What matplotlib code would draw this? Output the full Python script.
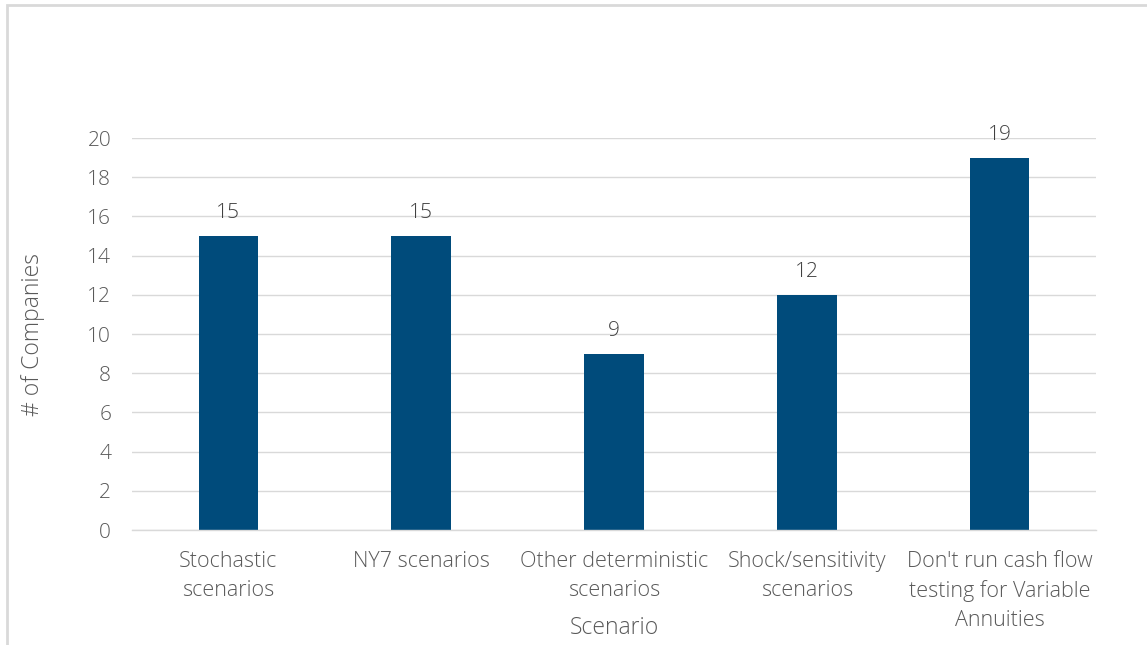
import matplotlib
matplotlib.use("Agg")
import matplotlib.pyplot as plt
from matplotlib.patches import Rectangle

categories = ["Stochastic\nscenarios", "NY7 scenarios", "Other deterministic\nscenarios",
              "Shock/sensitivity\nscenarios", "Don't run cash flow\ntesting for Variable\nAnnuities"]
values = [15, 15, 9, 12, 19]
yticks = [0, 2, 4, 6, 8, 10, 12, 14, 16, 18, 20]

plt.rcParams['font.family'] = ['Open Sans', 'DejaVu Sans']
W, H = 1147, 645
fig = plt.figure(figsize=(W/100, H/100), dpi=100)
fig.patch.set_facecolor('white')

# chart frame (left and top edges visible)
fig.add_artist(Rectangle((7/W, -0.1), 1.2, (645-5)/H + 0.1, transform=fig.transFigure,
                         fill=False, edgecolor='#d9d9d9', linewidth=2))

ax = fig.add_axes([132/W, 1-530/H, (1096-132)/W, (530-138)/H])
x = list(range(len(categories)))
bars = ax.bar(x, values, width=0.31, color='#004b7b', zorder=3)
ax.set_xlim(-0.5, len(categories)-0.5)
ax.set_ylim(0, 20)
ax.set_yticks(yticks)
ax.yaxis.grid(True, color='#d9d9d9', linewidth=1, zorder=0)
for s in ['top', 'right', 'left']:
    ax.spines[s].set_visible(False)
ax.spines['bottom'].set_color('#d9d9d9')
ax.spines['bottom'].set_linewidth(1)
ax.spines['bottom'].set_zorder(4)
ax.tick_params(axis='both', length=0, colors='#595959')
ax.tick_params(axis='y', pad=15, labelsize=15)
ax.tick_params(axis='x', pad=15, labelsize=15.5)
ax.set_xticks(x)
ax.set_xticklabels(categories, linespacing=1.5)
for lab in ax.get_xticklabels() + ax.get_yticklabels():
    lab.set_fontweight('light')
for b, v in zip(bars, values):
    ax.annotate(str(v), (b.get_x()+b.get_width()/2, v), xytext=(0, 9),
                textcoords='offset points', ha='center', va='bottom',
                fontsize=15, color='#404040', fontweight='light')
ax.set_xlabel("Scenario", fontsize=16.5, color='#595959', fontweight='light', va='center')
ax.xaxis.set_label_coords(0.5, (530-628)/392)
ax.set_ylabel("# of Companies", fontsize=16.5, color='#595959', fontweight='light', va='center')
ax.yaxis.set_label_coords((33-132)/964, 0.5)
fig.savefig("out.png", dpi=100)
